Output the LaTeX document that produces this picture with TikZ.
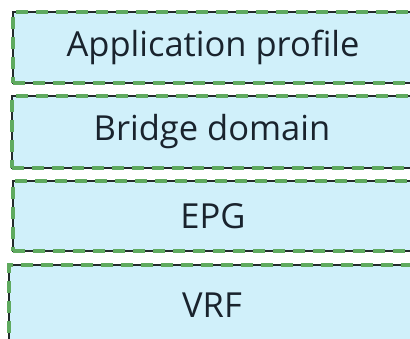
\documentclass[tikz,border=0pt]{standalone}
\usepackage{fontspec}
\setmainfont{Open Sans}
\definecolor{boxfill}{RGB}{208,240,250}
\definecolor{edgedark}{RGB}{35,42,42}
\definecolor{edgegreen}{RGB}{95,170,95}
\tikzset{
  layerbox/.style={rectangle, minimum width=412pt, inner sep=0pt,
    fill=boxfill, draw=edgedark, line width=1.3pt,
    postaction={draw=edgegreen, line width=3.2pt, dash pattern=on 12pt off 8pt},
    font=\fontsize{34.5}{38}\selectfont, text={rgb,255:red,25;green,35;blue,45}},
}
\begin{document}
\begin{tikzpicture}[x=1pt,y=-1pt]
\useasboundingbox (0,0) rectangle (410,338);
\fill[white] (0,0) rectangle (410,338);
\clip (0,0) rectangle (410,338);
\node[layerbox, minimum height=71pt] (ap) at (219,47.5) {\hspace*{-12pt}Application profile};
\node[layerbox, minimum height=72pt] (bd) at (218,132) {\hspace*{-12pt}Bridge domain};
\node[layerbox, minimum height=70pt] (epg) at (219,216) {\hspace*{-12pt}EPG};
\node[layerbox, minimum height=80pt] (vrf) at (215,305) {\hspace*{-6pt}VRF};
\end{tikzpicture}
\end{document}
